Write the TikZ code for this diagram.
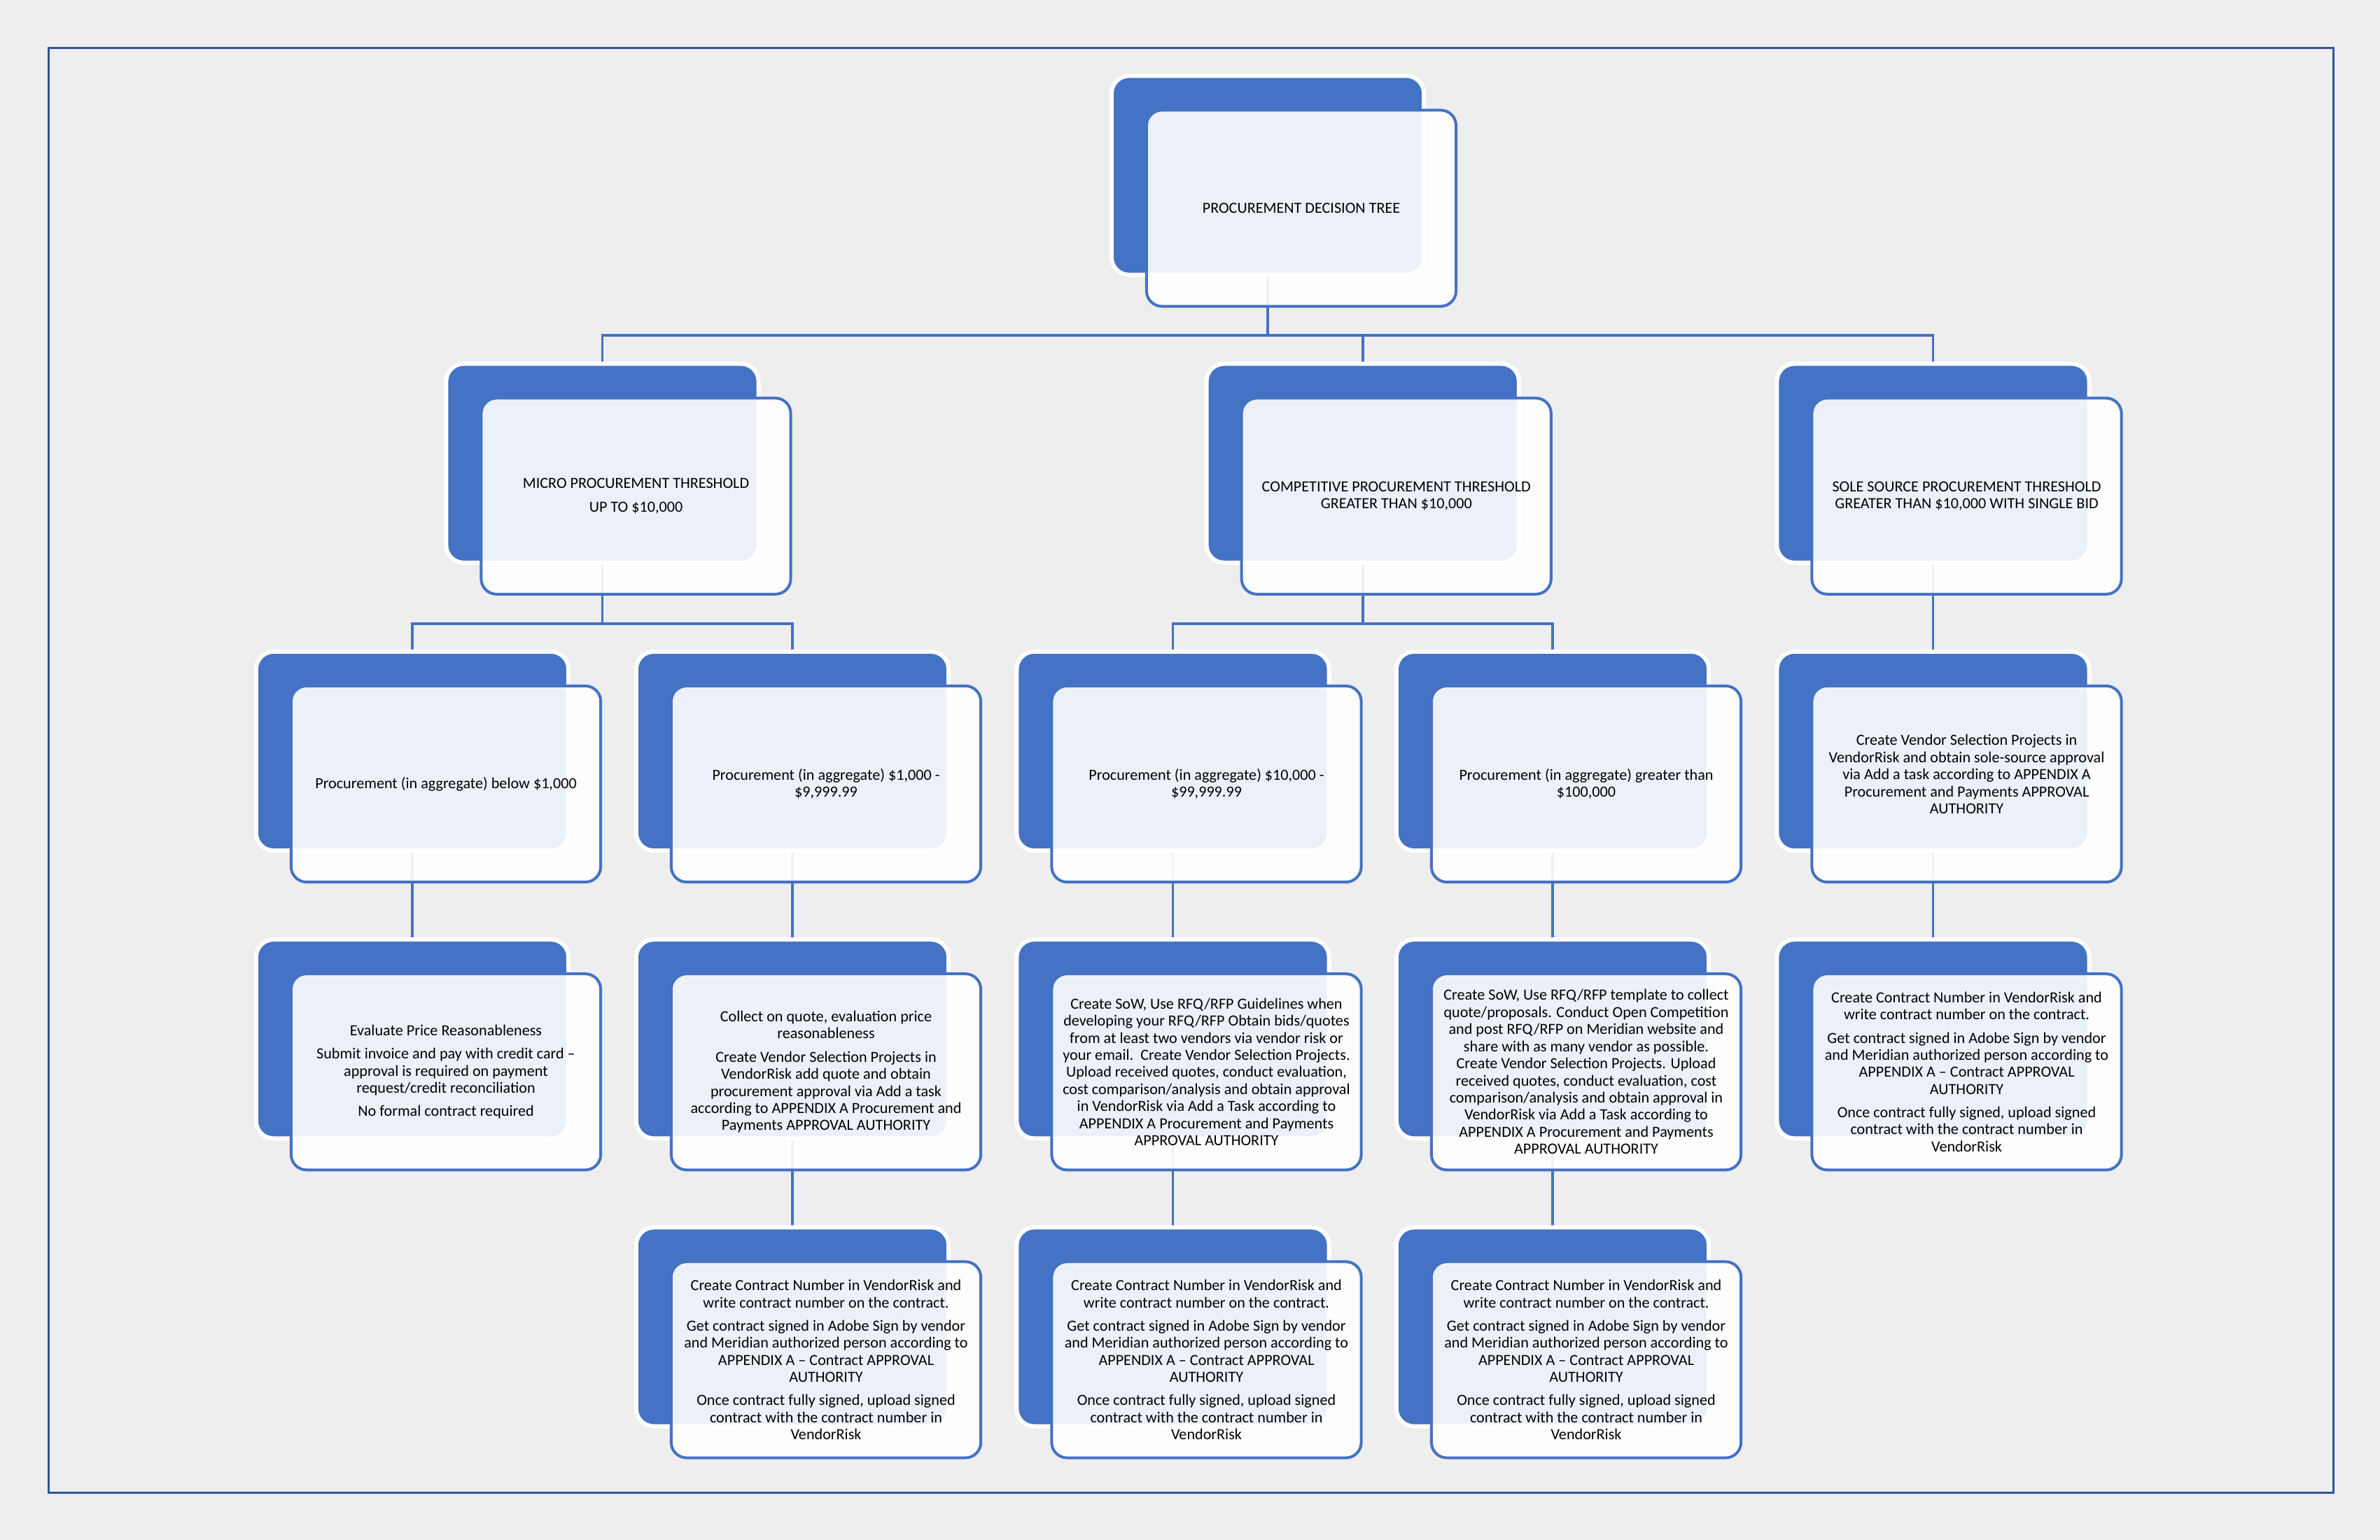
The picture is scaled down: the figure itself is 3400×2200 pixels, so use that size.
\documentclass[tikz,border=0pt]{standalone}
\usepackage{fontspec}
\setmainfont{Carlito}
\definecolor{accent}{HTML}{4472C4}
\definecolor{pagegray}{HTML}{EEEEEE}
\definecolor{framecol}{HTML}{2F5597}
\pgfdeclarelayer{bgfill}
\pgfdeclarelayer{lines}
\pgfsetlayers{bgfill,lines,main}
\tikzset{
  backbox/.style={rectangle, rounded corners=0.25cm, fill=accent, draw=white,
    line width=0.06cm, minimum width=4.46cm, minimum height=2.84cm,
    inner sep=0pt, outer sep=0pt},
  frontbox/.style={rectangle, rounded corners=0.22cm, fill=white, fill opacity=0.9,
    text opacity=1, draw=accent, draw opacity=1, line width=0.04cm,
    minimum width=4.42cm, minimum height=2.80cm, inner sep=0pt, outer sep=0pt,
    align=center, font=\fontsize{6.3pt}{6.95pt}\selectfont, text=black},
  conn/.style={draw=accent, line width=0.035cm},
  frameline/.style={draw=framecol, line width=0.03cm},
}
\newcommand\procbox[4]{%
  \node[backbox] (#1b) at (#2,#3) {};
  \node[frontbox] (#1) at ({#2+48},{#3+47}) {#4};
}
\newcommand\contracttext{Create Contract Number in VendorRisk and\\write contract number on the contract.\\[2.5pt]Get contract signed in Adobe Sign by vendor\\and Meridian authorized person according to\\APPENDIX A – Contract APPROVAL\\AUTHORITY\\[2.5pt]Once contract fully signed, upload signed\\contract with the contract number in\\VendorRisk}
\begin{document}
\begin{tikzpicture}[x=0.01cm,y=-0.01cm]
\useasboundingbox (0,0) rectangle (3400,2200);
\begin{pgfonlayer}{bgfill}
  \fill[pagegray] (0,0) rectangle (3400,2200);
  \draw[frameline] (69,69) rectangle (3333,2132);
\end{pgfonlayer}

% level 0
\procbox{root}{1811}{250.5}{PROCUREMENT DECISION TREE}
% level 1
\procbox{micro}{860.5}{661.75}{MICRO PROCUREMENT THRESHOLD\\[2.5pt]UP TO \$10,000}
\procbox{comp}{1946.75}{661.75}{COMPETITIVE PROCUREMENT THRESHOLD\\GREATER THAN \$10,000}
\procbox{sole}{2761.5}{661.75}{SOLE SOURCE PROCUREMENT THRESHOLD\\GREATER THAN \$10,000 WITH SINGLE BID}
% level 2
\procbox{la}{589}{1073}{Procurement (in aggregate) below \$1,000}
\procbox{lb}{1132}{1073}{Procurement (in aggregate) \$1,000 -\\\$9,999.99}
\procbox{lc}{1675.5}{1073}{Procurement (in aggregate) \$10,000 -\\\$99,999.99}
\procbox{ld}{2218}{1073}{Procurement (in aggregate) greater than\\\$100,000}
\procbox{le}{2761.5}{1073}{Create Vendor Selection Projects in\\VendorRisk and obtain sole-source approval\\via Add a task according to APPENDIX A\\Procurement and Payments APPROVAL\\AUTHORITY\\[1pt]\mbox{}}
% level 3
\procbox{ma}{589}{1484.25}{Evaluate Price Reasonableness\\[2.5pt]Submit invoice and pay with credit card –\\approval is required on payment\\request/credit reconciliation\\[2.5pt]No formal contract required}
\procbox{mb}{1132}{1484.25}{Collect on quote, evaluation price\\reasonableness\\[2.5pt]Create Vendor Selection Projects in\\VendorRisk add quote and obtain\\procurement approval via Add a task\\according to APPENDIX A Procurement and\\Payments APPROVAL AUTHORITY}
\procbox{mc}{1675.5}{1484.25}{Create SoW, Use RFQ/RFP Guidelines when\\developing your RFQ/RFP Obtain bids/quotes\\from at least two vendors via vendor risk or\\your email.\ \ Create Vendor Selection Projects.\\Upload received quotes, conduct evaluation,\\cost comparison/analysis and obtain approval\\in VendorRisk via Add a Task according to\\APPENDIX A Procurement and Payments\\APPROVAL AUTHORITY}
\procbox{md}{2218}{1484.25}{Create SoW, Use RFQ/RFP template to collect\\quote/proposals. Conduct Open Competition\\and post RFQ/RFP on Meridian website and\\share with as many vendor as possible.\\Create Vendor Selection Projects. Upload\\received quotes, conduct evaluation, cost\\comparison/analysis and obtain approval in\\VendorRisk via Add a Task according to\\APPENDIX A Procurement and Payments\\APPROVAL AUTHORITY}
\procbox{me}{2761.5}{1484.25}{\contracttext}
% level 4
\procbox{nb}{1132}{1895.5}{\contracttext}
\procbox{nc}{1675.5}{1895.5}{\contracttext}
\procbox{nd}{2218}{1895.5}{\contracttext}

\begin{pgfonlayer}{lines}
  \coordinate (bus1) at (0,479);
  \coordinate (bus2) at (0,891);
  \draw[conn] (rootb.center) -- (rootb.center |- bus1) -| (microb.north);
  \draw[conn] (rootb.center) -- (rootb.center |- bus1) -| (compb.north);
  \draw[conn] (rootb.center) -- (rootb.center |- bus1) -| (soleb.north);
  \draw[conn] (microb.center) -- (microb.center |- bus2) -| (lab.north);
  \draw[conn] (microb.center) -- (microb.center |- bus2) -| (lbb.north);
  \draw[conn] (compb.center) -- (compb.center |- bus2) -| (lcb.north);
  \draw[conn] (compb.center) -- (compb.center |- bus2) -| (ldb.north);
  \draw[conn] (soleb.center) -- (leb.north);
  \draw[conn] (lab.center) -- (mab.north);
  \draw[conn] (lbb.center) -- (mbb.north);
  \draw[conn] (lcb.center) -- (mcb.north);
  \draw[conn] (ldb.center) -- (mdb.north);
  \draw[conn] (leb.center) -- (meb.north);
  \draw[conn] (mbb.center) -- (nbb.north);
  \draw[conn] (mcb.center) -- (ncb.north);
  \draw[conn] (mdb.center) -- (ndb.north);
\end{pgfonlayer}
\end{tikzpicture}
\end{document}
